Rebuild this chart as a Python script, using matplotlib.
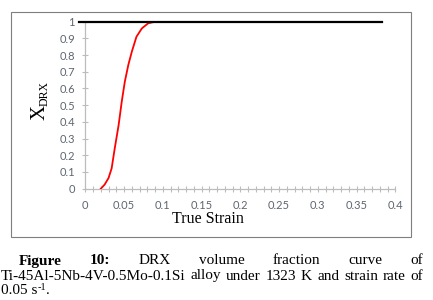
import matplotlib
matplotlib.use('Agg')
import matplotlib.pyplot as plt
from matplotlib.patches import Rectangle
from matplotlib.ticker import MultipleLocator

# data
strain = [0.020, 0.025, 0.030, 0.034, 0.038, 0.043, 0.047, 0.051,
          0.0555, 0.060, 0.066, 0.073, 0.081, 0.090]
x_drx = [0.0, 0.025, 0.064, 0.122, 0.242, 0.381, 0.521, 0.641,
         0.741, 0.82, 0.91, 0.96, 0.99, 1.0]
full_x = [-0.008, 0.3825]
full_y = [1, 1]
yticks = [0, 0.1, 0.2, 0.3, 0.4, 0.5, 0.6, 0.7, 0.8, 0.9, 1]
xticks = [0, 0.05, 0.1, 0.15, 0.2, 0.25, 0.3, 0.35, 0.4]

cap1 = [('Figure', 'bold'), ('10:', 'bold'), ('DRX', 'normal'), ('volume', 'normal'),
        ('fraction', 'normal'), ('curve', 'normal'), ('of', 'normal')]
cap2 = ['Ti-45Al-5Nb-4V-0.5Mo-0.1Si', 'alloy', 'under', '1323', 'K', 'and',
        'strain', 'rate', 'of']

W, H = 433, 300
fig = plt.figure(figsize=(W / 100, H / 100), dpi=100)


def fx(px):
    return px / W


def fy(py):
    return 1 - py / H


ax = fig.add_axes([fx(85.3), fy(188.7), fx(310), 167 / H])
ax.plot(strain, x_drx, color='#ff0000', lw=1.3, zorder=3)
ax.plot(full_x, full_y, color='black', lw=1.6, clip_on=False, zorder=4)
ax.set_xlim(0, 0.4)
ax.set_ylim(0, 1)

tick_gray = '#5f6670'
axis_gray = '#bcbcbc'
for s in ['top', 'right']:
    ax.spines[s].set_visible(False)
for s in ['left', 'bottom']:
    ax.spines[s].set_color(axis_gray)
    ax.spines[s].set_linewidth(0.9)
ax.set_yticks(yticks)
ax.set_yticklabels(['%g' % v for v in yticks])
ax.set_xticks(xticks)
ax.set_xticklabels(['%g' % v for v in xticks])
ax.xaxis.set_minor_locator(MultipleLocator(0.01))
ax.tick_params(axis='both', which='both', direction='inout', color=axis_gray,
               width=0.8, labelcolor=tick_gray, labelsize=8)
ax.tick_params(axis='y', length=5, pad=5)
ax.tick_params(axis='x', which='both', length=4, pad=6)
for lab in ax.get_xticklabels() + ax.get_yticklabels():
    lab.set_fontfamily('Lato')

serif = 'Liberation Serif'
fig.text(fx(208), fy(219), 'True Strain', family=serif, fontsize=11.5,
         ha='center', va='center')
fig.text(fx(40), fy(112), 'X', family=serif, fontsize=15, rotation=90,
         ha='center', va='center')
fig.text(fx(44.5), fy(94), 'DRX', family=serif, fontsize=8.5, rotation=90,
         ha='center', va='center')

# outer frame of the chart
fig.patches.append(Rectangle((fx(11), fy(237)), fx(400), 225 / H, transform=fig.transFigure,
                             fill=False, edgecolor='#7f7f7f', lw=0.8))

# justified caption
renderer = fig.canvas.get_renderer()
cap_size = 11


def justify(words, x0, x1, base):
    texts = []
    widths = []
    for w, weight in words:
        t = fig.text(0, fy(base), w, family=serif, fontsize=cap_size,
                     fontweight=weight, va='baseline')
        widths.append(t.get_window_extent(renderer).width)
        texts.append(t)
    gap = (x1 - x0 - sum(widths)) / (len(words) - 1)
    x = x0
    for t, w in zip(texts, widths):
        t.set_x(fx(x))
        x += w + gap


justify(cap1, 18.3, 423.3, 264.5)
justify([(w, 'normal') for w in cap2], 1.0, 423.3, 279.5)

t = fig.text(fx(1), fy(294.5), '0.05 s', family=serif, fontsize=cap_size, va='baseline')
w1 = t.get_window_extent(renderer).width
t2 = fig.text(fx(1 + w1), fy(289.5), '-1', family=serif, fontsize=7.5, va='baseline')
w2 = t2.get_window_extent(renderer).width
fig.text(fx(1 + w1 + w2), fy(294.5), '.', family=serif, fontsize=cap_size, va='baseline')

fig.savefig('out.png', dpi=100)
